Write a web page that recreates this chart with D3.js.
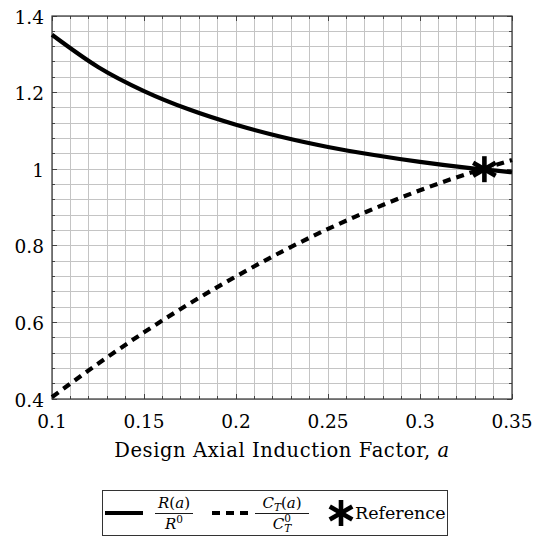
<!DOCTYPE html>
<html>
<head>
<meta charset="utf-8">
<script src="https://cdn.jsdelivr.net/npm/d3@7"></script>
<style>
  body { margin: 0; background: #fff; }
  text { font-family: "DejaVu Serif", "Liberation Serif", serif; fill: #000; }
</style>
</head>
<body>
<script>
const width = 533;
const height = 537;

// values
const aValues = [0.1, 0.125, 0.15, 0.175, 0.2, 0.225, 0.25, 0.275, 0.3, 0.325, 0.35];
const radiusRatio = [1.351, 1.267, 1.204, 1.155, 1.116, 1.084, 1.058, 1.037, 1.019, 1.004, 0.992];
const thrustRatio = [0.405, 0.492, 0.574, 0.650, 0.720, 0.785, 0.844, 0.897, 0.945, 0.987, 1.024];
const reference = {a: 0.335, v: 1.0};
const xTicks = [0.1, 0.15, 0.2, 0.25, 0.3, 0.35];
const yTicks = [0.4, 0.6, 0.8, 1.0, 1.2, 1.4];

const plot = {left: 52, right: 512, top: 16, bottom: 399};
const lineW = 4.2;

let x = d3.scaleLinear().domain([0.1, 0.35]).range([plot.left, plot.right]);
let y = d3.scaleLinear().domain([0.4, 1.4]).range([plot.bottom, plot.top]);

let svg = d3.select("body").append("svg")
    .attr("width", width)
    .attr("height", height);

// grid, every 0.01 in x and 0.04 in y
let xGrid = d3.range(0, 26).map((i) => 0.1 + i * 0.01);
let yGrid = d3.range(0, 26).map((i) => 0.4 + i * 0.04);

let grid = svg.append("g").attr("stroke", "#c4c4c4").attr("stroke-width", 1)
    .attr("shape-rendering", "crispEdges");
grid.selectAll("line.gx").data(xGrid).enter().append("line")
    .attr("x1", (d) => x(d)).attr("x2", (d) => x(d))
    .attr("y1", plot.top).attr("y2", plot.bottom);
grid.selectAll("line.gy").data(yGrid).enter().append("line")
    .attr("x1", plot.left).attr("x2", plot.right)
    .attr("y1", (d) => y(d)).attr("y2", (d) => y(d));

// inward ticks on all four sides
let ticks = svg.append("g").attr("stroke", "#444").attr("stroke-width", 1)
    .attr("shape-rendering", "crispEdges");
function isMajor(v, step) {
    return Math.abs(v / step - Math.round(v / step)) < 1e-6;
}
xGrid.forEach((d) => {
    let len = isMajor(d, 0.05) ? 5 : 3;
    ticks.append("line").attr("x1", x(d)).attr("x2", x(d)).attr("y1", plot.bottom).attr("y2", plot.bottom - len);
    ticks.append("line").attr("x1", x(d)).attr("x2", x(d)).attr("y1", plot.top).attr("y2", plot.top + len);
});
yGrid.forEach((d) => {
    let len = isMajor(d, 0.2) ? 5 : 3;
    ticks.append("line").attr("x1", plot.left).attr("x2", plot.left + len).attr("y1", y(d)).attr("y2", y(d));
    ticks.append("line").attr("x1", plot.right).attr("x2", plot.right - len).attr("y1", y(d)).attr("y2", y(d));
});

svg.append("rect")
    .attr("x", plot.left).attr("y", plot.top)
    .attr("width", plot.right - plot.left).attr("height", plot.bottom - plot.top)
    .attr("fill", "none").attr("stroke", "#333").attr("stroke-width", 1.2);

// tick labels
svg.append("g").selectAll("text").data(xTicks).enter().append("text")
    .attr("x", (d) => x(d)).attr("y", plot.bottom + 29)
    .attr("text-anchor", "middle").attr("font-size", 18.5)
    .text((d) => d3.format("")(d));
svg.append("g").selectAll("text").data(yTicks).enter().append("text")
    .attr("x", plot.left - 8).attr("y", (d) => y(d) + 7.5)
    .attr("text-anchor", "end").attr("font-size", 18.5)
    .text((d) => d3.format("")(+d.toFixed(1)));

svg.append("text")
    .attr("x", 282).attr("y", 457)
    .attr("text-anchor", "middle").attr("font-size", 19.5)
    .attr("letter-spacing", 0.6)
    .call((t) => {
        t.append("tspan").text("Design Axial Induction Factor, ");
        t.append("tspan").attr("font-style", "italic").text("a");
    });

// curves
let line = d3.line()
    .x((d) => x(d[0])).y((d) => y(d[1]))
    .curve(d3.curveMonotoneX);

svg.append("path")
    .datum(aValues.map((a, i) => [a, radiusRatio[i]]))
    .attr("d", line)
    .attr("fill", "none").attr("stroke", "#000").attr("stroke-width", lineW);

svg.append("path")
    .datum(aValues.map((a, i) => [a, thrustRatio[i]]))
    .attr("d", line)
    .attr("fill", "none").attr("stroke", "#000").attr("stroke-width", lineW)
    .attr("stroke-dasharray", "8,6");

function asterisk(g, cx, cy, r) {
    [90, 30, -30].forEach((deg) => {
        let rad = deg * Math.PI / 180;
        g.append("line")
            .attr("x1", cx - r * Math.cos(rad)).attr("y1", cy - r * Math.sin(rad))
            .attr("x2", cx + r * Math.cos(rad)).attr("y2", cy + r * Math.sin(rad))
            .attr("stroke", "#000").attr("stroke-width", 4.6);
    });
}
asterisk(svg.append("g"), x(reference.a), y(reference.v), 13);

// legend
const ly = 513;
let legend = svg.append("g");
legend.append("rect")
    .attr("x", 102.5).attr("y", 490.5).attr("width", 345).attr("height", 45)
    .attr("fill", "#fff").attr("stroke", "#333").attr("stroke-width", 1);

legend.append("line").attr("x1", 105).attr("x2", 143).attr("y1", ly).attr("y2", ly)
    .attr("stroke", "#000").attr("stroke-width", lineW);
legend.append("line").attr("x1", 212).attr("x2", 248).attr("y1", ly).attr("y2", ly)
    .attr("stroke", "#000").attr("stroke-width", lineW).attr("stroke-dasharray", "8,6");
asterisk(legend, 341, ly, 13);

function fraction(g, cx, numParts, denParts, barWidth) {
    let fs = 15, ss = 10.5;
    let num = g.append("text").attr("x", cx).attr("y", ly - 5)
        .attr("text-anchor", "middle").attr("font-size", fs);
    numParts.forEach((p) => num.append("tspan")
        .attr("font-style", p.i ? "italic" : "normal")
        .attr("font-size", p.s ? ss : fs)
        .attr("dx", p.dx || 0)
        .attr("dy", p.dy || 0)
        .text(p.t));
    g.append("line").attr("x1", cx - barWidth / 2).attr("x2", cx + barWidth / 2)
        .attr("y1", ly + 0.5).attr("y2", ly + 0.5).attr("stroke", "#000").attr("stroke-width", 0.9);
    let den = g.append("text").attr("x", cx).attr("y", ly + 16)
        .attr("text-anchor", "middle").attr("font-size", fs);
    denParts.forEach((p) => den.append("tspan")
        .attr("font-style", p.i ? "italic" : "normal")
        .attr("font-size", p.s ? ss : fs)
        .attr("dx", p.dx || 0)
        .attr("dy", p.dy || 0)
        .text(p.t));
}

fraction(legend, 174,
    [{t: "R", i: true}, {t: "("}, {t: "a", i: true}, {t: ")"}],
    [{t: "R", i: true}, {t: "0", s: true, dy: -6}], 38);
fraction(legend, 282,
    [{t: "C", i: true}, {t: "T", i: true, s: true, dy: 3}, {t: "(", dy: -3}, {t: "a", i: true}, {t: ")"}],
    [{t: "C", i: true}, {t: "T", i: true, s: true, dy: 3}, {t: "0", s: true, dx: -7, dy: -10}], 54);
legend.append("text").attr("x", 355).attr("y", ly + 6).attr("font-size", 17.5).text("Reference");
</script>
</body>
</html>
